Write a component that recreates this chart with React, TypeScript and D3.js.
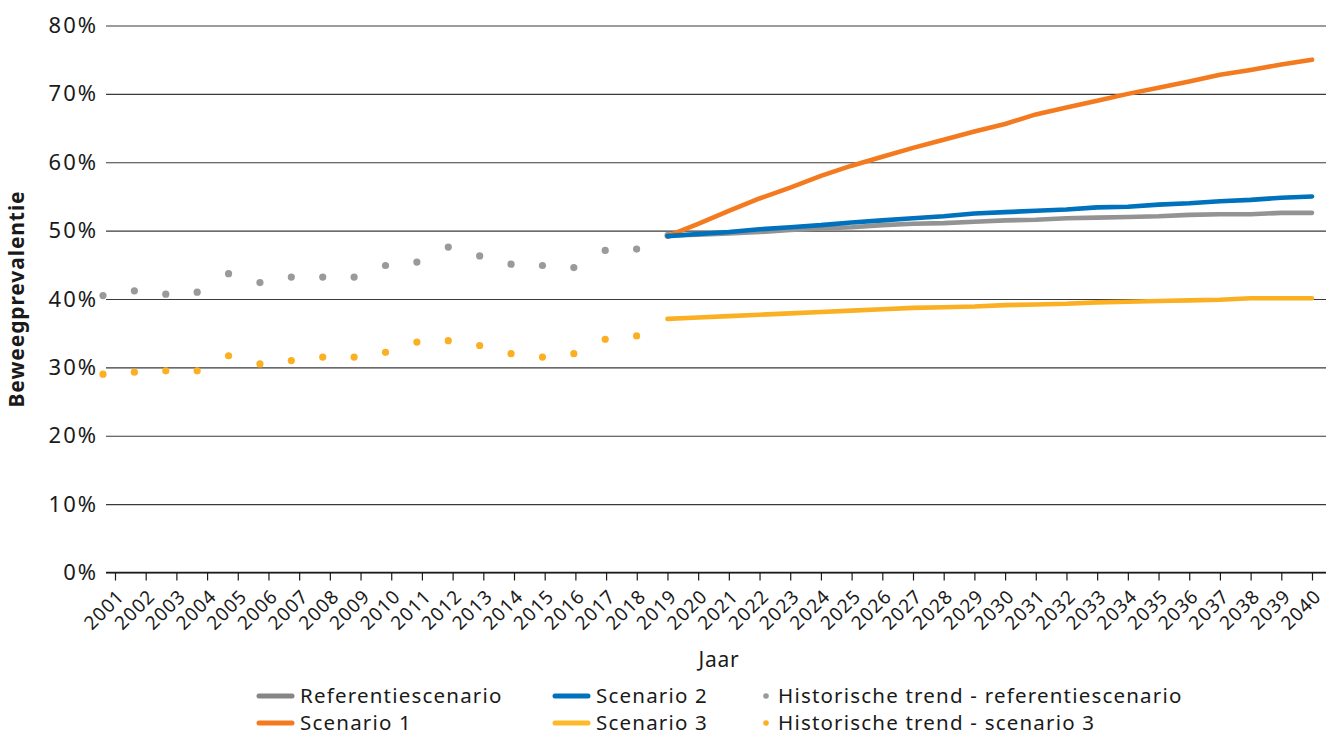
import { useEffect, useRef } from "react";
import * as d3 from "d3";

// Beweegprevalentie: historische trend 2001-2019 en scenario's tot 2040
const years = [
  2001, 2002, 2003, 2004, 2005, 2006, 2007, 2008, 2009, 2010,
  2011, 2012, 2013, 2014, 2015, 2016, 2017, 2018, 2019, 2020,
  2021, 2022, 2023, 2024, 2025, 2026, 2027, 2028, 2029, 2030,
  2031, 2032, 2033, 2034, 2035, 2036, 2037, 2038, 2039, 2040,
];
const histYears = [
  2001, 2002, 2003, 2004, 2005, 2006, 2007, 2008, 2009, 2010,
  2011, 2012, 2013, 2014, 2015, 2016, 2017, 2018, 2019,
];
const histReferentie = [
  40.5, 41.2, 40.7, 41.0, 43.7, 42.4, 43.2, 43.2, 43.2, 44.9,
  45.4, 47.6, 46.3, 45.1, 44.9, 44.6, 47.1, 47.3, 49.3,
];
const histScenario3 = [
  29.0, 29.3, 29.5, 29.5, 31.7, 30.5, 31.0, 31.5, 31.5, 32.2,
  33.7, 33.9, 33.2, 32.0, 31.5, 32.0, 34.1, 34.6,
];
const projYears = [
  2019, 2020, 2021, 2022, 2023, 2024, 2025, 2026, 2027, 2028, 2029,
  2030, 2031, 2032, 2033, 2034, 2035, 2036, 2037, 2038, 2039, 2040,
];
const referentie = [
  49.3, 49.4, 49.6, 49.8, 50.1, 50.3, 50.5, 50.8, 51.0, 51.1, 51.3,
  51.5, 51.6, 51.8, 51.9, 52.0, 52.1, 52.3, 52.4, 52.4, 52.6, 52.6,
];
const scenario1 = [
  49.2, 51.0, 52.9, 54.7, 56.3, 58.0, 59.5, 60.8, 62.1, 63.3, 64.5,
  65.6, 67.0, 68.0, 69.0, 70.0, 70.9, 71.8, 72.8, 73.5, 74.3, 75.0,
];
const scenario2 = [
  49.2, 49.5, 49.8, 50.2, 50.5, 50.8, 51.2, 51.5, 51.8, 52.1, 52.5,
  52.7, 52.9, 53.1, 53.4, 53.5, 53.8, 54.0, 54.3, 54.5, 54.8, 55.0,
];
const scenario3 = [
  37.1, 37.3, 37.5, 37.7, 37.9, 38.1, 38.3, 38.5, 38.7, 38.8, 38.9,
  39.1, 39.2, 39.3, 39.5, 39.6, 39.7, 39.8, 39.9, 40.1, 40.1, 40.1,
];
const yTicks = [0, 10, 20, 30, 40, 50, 60, 70, 80];

const FONT = "'Noto Sans', 'Open Sans', sans-serif";
const TEXT = "#1a1a1a";
const GRAY = "#939393";
const ORANGE = "#f47a20";
const BLUE = "#0071bc";
const YELLOW = "#fbb023";

export default function App() {
  const ref = useRef<SVGSVGElement | null>(null);

  useEffect(() => {
    const svg = d3.select(ref.current);
    svg.selectAll("*").remove();

    const width = 1331;
    const height = 738;
    const gridLeft = 106;
    const gridRight = 1326;

    const y = d3.scaleLinear().domain([0, 80]).range([572.5, 25.5]);
    const x = d3.scaleLinear().domain([2001, 2040]).range([115, 1312]);
    // historische punten staan in het origineel op een eigen (secundaire) as
    const xHist = d3.scaleLinear().domain([2001, 2019]).range([103, 668]);

    svg.attr("width", width).attr("height", height);

    // gridlijnen + y-labels
    const yAxis = svg.append("g").attr("transform", `translate(${gridLeft},0)`)
      .call(d3.axisLeft(y).tickValues(yTicks).tickSize(-(gridRight - gridLeft)).tickPadding(8).tickFormat((d) => `${d}%`));
    yAxis.select(".domain").remove();
    yAxis.selectAll(".tick line").attr("stroke", "#3a3a3a").attr("stroke-width", 1.2);
    yAxis.selectAll(".tick text").attr("font-family", FONT).attr("font-size", 22)
      .attr("letter-spacing", 2).attr("fill", TEXT);

    // x-as
    const xAxis = svg.append("g").attr("transform", `translate(0,${y(0)})`)
      .call(d3.axisBottom(x).tickValues(years).tickSize(8).tickSizeOuter(0).tickFormat((d) => `${d}`));
    xAxis.select(".domain").attr("d", `M${gridLeft},0H${gridRight}`).attr("stroke", TEXT).attr("stroke-width", 1.4);
    xAxis.selectAll(".tick line").attr("stroke", TEXT).attr("stroke-width", 1.2);
    xAxis.selectAll(".tick text")
      .attr("font-family", FONT).attr("font-size", 19).attr("letter-spacing", 1).attr("fill", TEXT)
      .attr("y", 0).attr("dy", 0)
      .attr("transform", "translate(10,25) rotate(-45)")
      .style("text-anchor", "end");

    // as-titels
    svg.append("text").attr("x", 719).attr("y", 667).attr("text-anchor", "middle")
      .attr("font-family", FONT).attr("font-size", 21).attr("letter-spacing", 0.8).attr("fill", TEXT).text("Jaar");
    svg.append("text").attr("transform", `translate(24,${y(40)}) rotate(-90)`).attr("text-anchor", "middle")
      .attr("font-family", FONT).attr("font-size", 21).attr("letter-spacing", 0.9).attr("font-weight", "bold").attr("fill", TEXT)
      .text("Beweegprevalentie");

    // historische punten
    svg.append("g").selectAll("circle").data(histReferentie).join("circle")
      .attr("cx", (d, i) => xHist(histYears[i])).attr("cy", (d) => y(d)).attr("r", 3.6).attr("fill", "#9a9a9c");
    svg.append("g").selectAll("circle").data(histScenario3).join("circle")
      .attr("cx", (d, i) => xHist(histYears[i])).attr("cy", (d) => y(d)).attr("r", 3.6).attr("fill", YELLOW);

    // scenariolijnen
    const line = d3.line<number>().x((d, i) => x(projYears[i])).y((d) => y(d));
    const series = [
      { values: referentie, color: GRAY },
      { values: scenario3, color: YELLOW },
      { values: scenario1, color: ORANGE },
      { values: scenario2, color: BLUE },
    ];
    svg.append("g").selectAll("path").data(series).join("path")
      .attr("d", (s) => line(s.values)).attr("fill", "none").attr("stroke", (s) => s.color)
      .attr("stroke-width", 4.6).attr("stroke-linecap", "round").attr("stroke-linejoin", "round");

    // legenda
    const legend = [
      { label: "Referentiescenario", color: "#858585", kind: "line", x: 259, y: 696 },
      { label: "Scenario 1", color: ORANGE, kind: "line", x: 259, y: 723 },
      { label: "Scenario 2", color: BLUE, kind: "line", x: 555, y: 696 },
      { label: "Scenario 3", color: "#fdb927", kind: "line", x: 555, y: 723 },
      { label: "Historische trend - referentiescenario", color: "#9a9a9c", kind: "dot", x: 766, y: 696 },
      { label: "Historische trend - scenario 3", color: YELLOW, kind: "dot", x: 766, y: 723 },
    ];
    const lg = svg.append("g").selectAll("g").data(legend).join("g")
      .attr("transform", (d) => `translate(${d.x},${d.y})`);
    lg.filter((d) => d.kind === "line").append("line")
      .attr("x1", 0).attr("x2", 33).attr("y1", 0).attr("y2", 0)
      .attr("stroke", (d) => d.color).attr("stroke-width", 5).attr("stroke-linecap", "round");
    lg.filter((d) => d.kind === "dot").append("circle")
      .attr("cx", 0).attr("cy", 0).attr("r", 2.8).attr("fill", (d) => d.color);
    lg.append("text").attr("x", (d) => (d.kind === "line" ? 41 : 12)).attr("y", 0).attr("dy", "0.35em")
      .attr("font-family", FONT).attr("font-size", 20.5).attr("letter-spacing", 1.2).attr("fill", TEXT)
      .text((d) => d.label);
  }, []);

  return (
    <>
      <style>{`body{margin:0}`}</style>
      <svg ref={ref} style={{ display: "block", background: "#fff" }} />
    </>
  );
}
